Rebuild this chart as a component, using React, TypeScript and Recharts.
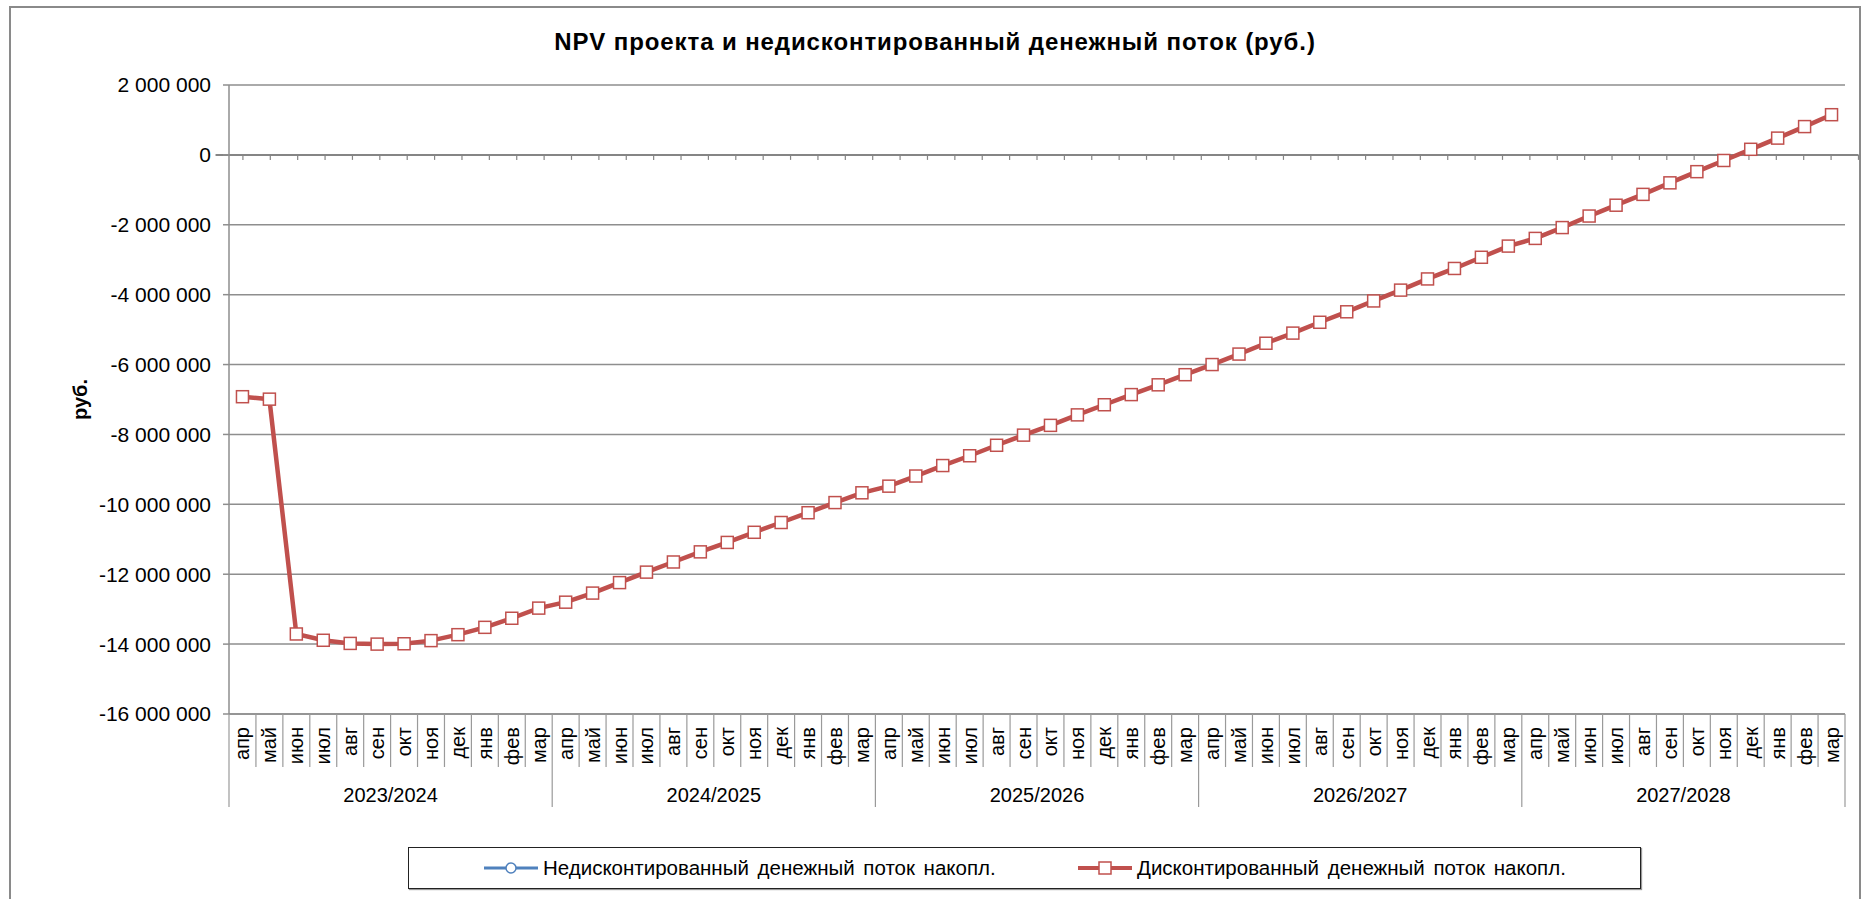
import React from 'react';
import { LineChart, Line, XAxis, YAxis, CartesianGrid, ReferenceLine } from 'recharts';

const months = ['апр', 'май', 'июн', 'июл', 'авг', 'сен', 'окт', 'ноя', 'дек', 'янв', 'фев', 'мар'];
const years = ['2023/2024', '2024/2025', '2025/2026', '2026/2027', '2027/2028'];

const yTicks = [2000000, 0, -2000000, -4000000, -6000000, -8000000, -10000000, -12000000, -14000000, -16000000];

// discounted cumulative cash flow, rub
const discounted = [
  -6920000, -6990000, -13710000, -13890000, -13980000, -14000000, -13990000, -13900000, -13730000, -13520000, -13260000, -12970000,
  -12800000, -12540000, -12240000, -11940000, -11650000, -11360000, -11090000, -10800000, -10520000, -10240000, -9950000, -9670000,
  -9480000, -9190000, -8890000, -8610000, -8310000, -8020000, -7740000, -7440000, -7150000, -6860000, -6580000, -6290000,
  -6000000, -5700000, -5390000, -5100000, -4790000, -4490000, -4180000, -3870000, -3550000, -3250000, -2930000, -2610000,
  -2390000, -2080000, -1750000, -1440000, -1130000, -800000, -480000, -160000, 160000, 480000, 810000, 1150000,
];

// undiscounted series is not visible on the picture (only in the legend)
const undiscounted: number[] = [];

const data = years.flatMap((year, yi) =>
  months.map((month, mi) => {
    const i = yi * 12 + mi;
    return {
      key: `${year}-${month}`,
      year,
      month,
      mi,
      discounted: discounted[i],
      undiscounted: undiscounted[i] ?? null,
    };
  })
);

const W = 1867;
const H = 899;
const M = { top: 85, right: 22, left: 0, bottom: 90 };
const Y_AXIS_W = 229;
const X_AXIS_H = 95;
const PLOT_W = W - M.left - M.right - Y_AXIS_W;
const BAND = PLOT_W / data.length;

const RED = '#C0504D';
const BLUE = '#4F81BD';
const GRID = '#8e8e8e';
const FONT = '"Liberation Sans", Arial, sans-serif';

const fmt = (v: number) => {
  const s = Math.abs(v).toString().replace(/\B(?=(\d{3})+(?!\d))/g, ' ');
  return v < 0 ? '-' + s : s;
};

const MonthTick = (props: any) => {
  const { x, y, payload } = props;
  const idx = payload.index;
  const row = data[idx];
  if (!row) return null;
  const left = x - BAND / 2;
  const right = x + BAND / 2;
  return (
    <g>
      <line x1={left} y1={y} x2={left} y2={y + (row.mi === 0 ? 93 : 53)} stroke="#9a9a9a" strokeWidth={1.2} />
      {idx === data.length - 1 && (
        <line x1={right} y1={y} x2={right} y2={y + 93} stroke="#9a9a9a" strokeWidth={1.2} />
      )}
      <text
        x={x}
        y={y + 13}
        transform={`rotate(-90, ${x}, ${y + 13})`}
        textAnchor="end"
        dominantBaseline="central"
        fontSize={20}
        fill="#000"
        fontFamily={FONT}
      >
        {row.month}
      </text>
      {row.mi === 5 && (
        <text x={right} y={y + 81} textAnchor="middle" dominantBaseline="central" fontSize={20} fill="#000" fontFamily={FONT}>
          {row.year}
        </text>
      )}
    </g>
  );
};

const ZeroLine = (p: any) => {
  const { x1, x2, y1 } = p;
  if (x1 == null) return null;
  // the axis is padded by half a band on each side
  const a = x1 - BAND / 2;
  const b = x2 + BAND / 2;
  const step = (b - a) / data.length;
  return (
    <g>
      <line x1={a} y1={y1} x2={b} y2={y1} stroke="#858585" strokeWidth={2} />
      {data.map((d, i) => (
        <line key={d.key} x1={a + step * (i + 1)} y1={y1} x2={a + step * (i + 1)} y2={y1 + 5} stroke="#858585" strokeWidth={1.2} />
      ))}
    </g>
  );
};

const SquareDot = (p: any) => {
  if (p.cx == null || p.cy == null || p.value == null) return <g key={p.index} />;
  return <rect key={p.index} x={p.cx - 6} y={p.cy - 6} width={12} height={12} fill="#fff" stroke={RED} strokeWidth={1.5} />;
};

const CircleDot = (p: any) => {
  if (p.cx == null || p.cy == null || p.value == null) return <g key={p.index} />;
  return <circle key={p.index} cx={p.cx} cy={p.cy} r={5} fill="#fff" stroke={BLUE} strokeWidth={1.5} />;
};

const YLabel = (p: any) => {
  const vb = p.viewBox || {};
  const cy = (vb.y ?? M.top) + (vb.height ?? 0) / 2;
  const cx = 80;
  return (
    <text x={cx} y={cy} transform={`rotate(-90, ${cx}, ${cy})`} textAnchor="middle" dominantBaseline="central" fontSize={20} fontWeight="bold" fontFamily={FONT} fill="#000">
      руб.
    </text>
  );
};

const LegendBox = () => (
  <div
    style={{
      position: 'absolute',
      left: 408,
      top: 847,
      width: 1231,
      height: 40,
      border: '1.5px solid #222',
      boxShadow: '1px 1px 1px rgba(0,0,0,0.4)',
      background: '#fff',
      fontFamily: FONT,
      fontSize: 20.5,
      wordSpacing: 3,
    }}
  >
    <div style={{ position: 'absolute', left: 74, top: 0, height: 40, display: 'flex', alignItems: 'center' }}>
      <svg width={56} height={20}>
        <line x1={1} y1={10} x2={55} y2={10} stroke={BLUE} strokeWidth={3} />
        <circle cx={28} cy={10} r={5} fill="#fff" stroke={BLUE} strokeWidth={1.5} />
      </svg>
      <span style={{ marginLeft: 4 }}>Недисконтированный денежный поток накопл.</span>
    </div>
    <div style={{ position: 'absolute', left: 668, top: 0, height: 40, display: 'flex', alignItems: 'center' }}>
      <svg width={56} height={20}>
        <line x1={1} y1={10} x2={55} y2={10} stroke={RED} strokeWidth={4} />
        <rect x={22} y={4} width={12} height={12} fill="#fff" stroke={RED} strokeWidth={1.5} />
      </svg>
      <span style={{ marginLeft: 4 }}>Дисконтированный денежный поток накопл.</span>
    </div>
  </div>
);

export default function App() {
  return (
    <div style={{ position: 'absolute', left: 0, top: 0, width: W, height: H, background: '#fff', fontFamily: FONT, overflow: 'hidden' }}>
      <div style={{ position: 'absolute', left: 9, top: 6, width: 1848, height: 1000, border: '2px solid #8a8a8a' }} />
      <div
        style={{
          position: 'absolute',
          left: 0,
          top: 28,
          width: 1870,
          textAlign: 'center',
          fontSize: 24,
          letterSpacing: 0.9,
          fontWeight: 'bold',
          lineHeight: '28px',
        }}
      >
        NPV проекта и недисконтированный денежный поток (руб.)
      </div>
      <div style={{ position: 'absolute', left: 0, top: 0 }}>
        <LineChart width={W} height={H} data={data} margin={M}>
          <CartesianGrid vertical={false} stroke={GRID} strokeWidth={1.5} />
          <XAxis
            dataKey="key"
            interval={0}
            height={X_AXIS_H}
            padding={{ left: BAND / 2, right: BAND / 2 }}
            tickSize={0}
            tickMargin={0}
            tickLine={false}
            axisLine={{ stroke: GRID, strokeWidth: 1.5 }}
            tick={<MonthTick />}
          />
          <YAxis
            width={Y_AXIS_W}
            domain={[-16000000, 2000000]}
            ticks={yTicks}
            interval={0}
            allowDataOverflow
            tickFormatter={fmt}
            tickSize={6}
            tickMargin={12}
            tick={{ fontSize: 21, fill: '#000', fontFamily: FONT }}
            axisLine={{ stroke: GRID, strokeWidth: 1.5 }}
            tickLine={{ stroke: GRID, strokeWidth: 1.5 }}
            label={<YLabel />}
          />
          <ReferenceLine y={0} shape={<ZeroLine />} />
          <Line
            dataKey="undiscounted"
            stroke={BLUE}
            strokeWidth={3}
            dot={<CircleDot />}
            isAnimationActive={false}
            connectNulls={false}
          />
          <Line
            dataKey="discounted"
            stroke={RED}
            strokeWidth={4.5}
            dot={<SquareDot />}
            isAnimationActive={false}
          />
        </LineChart>
      </div>
      <LegendBox />
    </div>
  );
}
